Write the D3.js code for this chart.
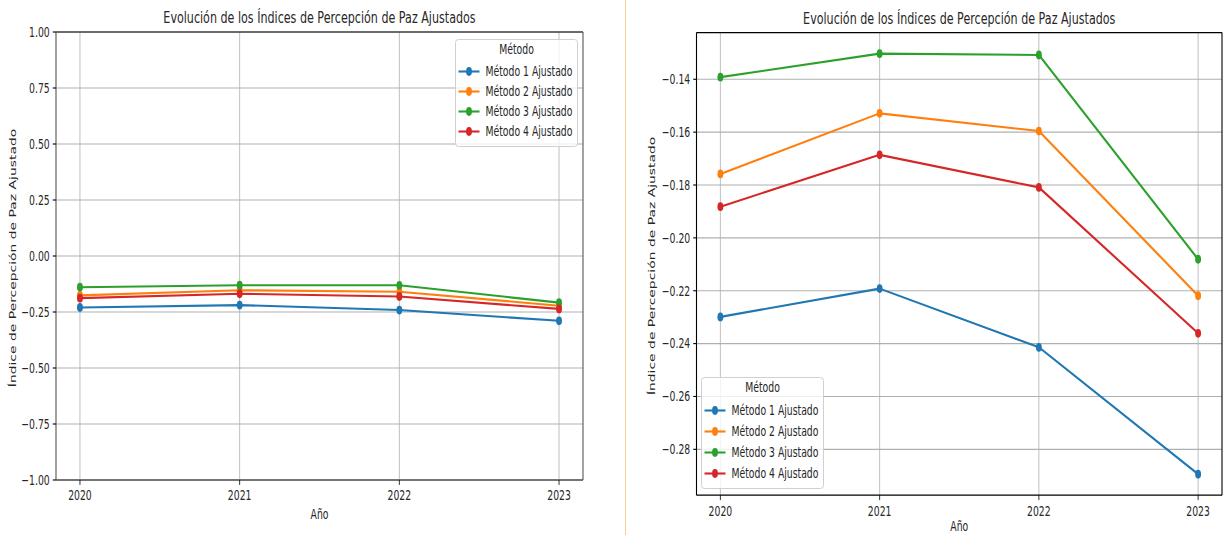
<!DOCTYPE html>
<html>
<head>
<meta charset="utf-8">
<script src="https://cdn.jsdelivr.net/npm/d3@7"></script>
<style>
  html, body { margin: 0; padding: 0; background: #fff; }
  svg { display: block; }
  text { font-family: "DejaVu Sans", sans-serif; fill: #262626; }
</style>
</head>
<body>
<svg id="chart" width="1225" height="535"></svg>
<script>
// ---------------- DATA ----------------
const years = [2020, 2021, 2022, 2023];
const seriesNames = ["Método 1 Ajustado", "Método 2 Ajustado", "Método 3 Ajustado", "Método 4 Ajustado"];
const metodo1 = [-0.2299, -0.2192, -0.2414, -0.2894];
const metodo2 = [-0.1758, -0.1529, -0.1596, -0.2219];
const metodo3 = [-0.1392, -0.1303, -0.1308, -0.2081];
const metodo4 = [-0.1882, -0.1686, -0.1809, -0.2361];
const seriesColors = ["#1f77b4", "#ff7f0e", "#2ca02c", "#d62728"];
const leftYTicks = [-1.00, -0.75, -0.50, -0.25, 0.00, 0.25, 0.50, 0.75, 1.00];
const rightYTicks = [-0.28, -0.26, -0.24, -0.22, -0.20, -0.18, -0.16, -0.14];
const titleText = "Evolución de los Índices de Percepción de Paz Ajustados";
const xLabelText = "Año";
const yLabelText = "Índice de Percepción de Paz Ajustado";
const legendTitle = "Método";

const allSeries = [metodo1, metodo2, metodo3, metodo4];

// horizontal squeeze of the original picture
const SX = 0.668;
const svg = d3.select("#chart");

// divider between the two pictures
svg.append("line").attr("x1", 625.5).attr("x2", 625.5).attr("y1", 0).attr("y2", 535)
  .attr("stroke", "#f3d38a").attr("stroke-width", 1);

function addText(g, x, y, str, size, anchor, rotate, dy) {
  const t = g.append("text")
    .attr("transform", `translate(${x},${y}) scale(${SX},1)` + (rotate ? ` rotate(${rotate})` : ""))
    .attr("text-anchor", anchor || "start")
    .style("font-size", size + "px")
    .text(str);
  if (dy) t.attr("dy", dy);
  return t;
}

function fmt2(v) { return d3.format(".2f")(v).replace("-", "\u2212"); }

function drawPanel(cfg) {
  const g = svg.append("g");
  const x = d3.scaleLinear().domain([2020 - 0.15, 2023 + 0.15]).range([cfg.left, cfg.right]);
  let yDom = cfg.yDomain;
  if (!yDom) {
    const all = allSeries.flat();
    const mn = d3.min(all), mx = d3.max(all), m = (mx - mn) * 0.05;
    yDom = [mn - m, mx + m];
  }
  const y = d3.scaleLinear().domain(yDom).range([cfg.bottom, cfg.top]);

  // grid
  g.append("g").selectAll("line").data(years).join("line")
    .attr("x1", d => x(d)).attr("x2", d => x(d))
    .attr("y1", cfg.top).attr("y2", cfg.bottom)
    .attr("stroke", "#b0b0b0").attr("stroke-width", 0.8);
  g.append("g").selectAll("line").data(cfg.yTicks).join("line")
    .attr("x1", cfg.left).attr("x2", cfg.right)
    .attr("y1", d => y(d)).attr("y2", d => y(d))
    .attr("stroke", "#b0b0b0").attr("stroke-width", 1.1);

  // lines & markers
  const line = d3.line().x((d, i) => x(years[i])).y(d => y(d));
  allSeries.forEach((s, k) => {
    const sg = g.append("g");
    sg.append("path").attr("d", line(s)).attr("fill", "none")
      .attr("stroke", seriesColors[k]).attr("stroke-width", 2.1).attr("stroke-linejoin", "round");
    sg.selectAll("ellipse").data(s).join("ellipse")
      .attr("cx", (d, i) => x(years[i])).attr("cy", d => y(d))
      .attr("rx", 4.4 * SX).attr("ry", 4.4)
      .attr("fill", seriesColors[k]);
  });

  // spines
  g.append("line").attr("x1", cfg.left).attr("x2", cfg.right).attr("y1", cfg.top).attr("y2", cfg.top).attr("stroke", "#000").attr("stroke-width", 1.1);
  g.append("line").attr("x1", cfg.left).attr("x2", cfg.right).attr("y1", cfg.bottom).attr("y2", cfg.bottom).attr("stroke", cfg.spineColor).attr("stroke-width", 1.3);
  g.append("line").attr("x1", cfg.left).attr("x2", cfg.left).attr("y1", cfg.top).attr("y2", cfg.bottom).attr("stroke", cfg.spineColor).attr("stroke-width", 1.1);
  g.append("line").attr("x1", cfg.right).attr("x2", cfg.right).attr("y1", cfg.top).attr("y2", cfg.bottom).attr("stroke", cfg.spineColor).attr("stroke-width", 1.1);

  // y ticks
  cfg.yTicks.forEach(t => {
    g.append("line").attr("x1", cfg.left - 3.3).attr("x2", cfg.left).attr("y1", y(t)).attr("y2", y(t)).attr("stroke", "#000").attr("stroke-width", 1.1);
    addText(g, cfg.left - 6.3, y(t), fmt2(t), 13.9, "end", 0, "0.35em");
  });
  // x ticks
  years.forEach(t => {
    g.append("line").attr("x1", x(t)).attr("x2", x(t)).attr("y1", cfg.bottom).attr("y2", cfg.bottom + 4.9).attr("stroke", "#000").attr("stroke-width", 0.8);
    addText(g, x(t), cfg.bottom + 9.8, String(t), 13.9, "middle", 0, "0.76em");
  });

  // labels
  addText(g, (cfg.left + cfg.right) / 2, cfg.titleY, titleText, 16.67, "middle");
  addText(g, x(2021.5), cfg.xLabelY, xLabelText, 13.9, "middle");
  addText(g, cfg.yLabelX, (cfg.top + cfg.bottom) / 2 + 2, yLabelText, 13.9, "middle", -90);

  // legend
  const L = cfg.legend;
  const lg = g.append("g");
  lg.append("rect").attr("x", L.x).attr("y", L.y).attr("width", L.w).attr("height", L.h)
    .attr("rx", 3).attr("ry", 3)
    .attr("fill", "#fff").attr("fill-opacity", 0.8).attr("stroke", "#d0d0d0").attr("stroke-width", 1);
  addText(lg, L.x + L.w / 2, L.y + 10, legendTitle, 13.9, "middle", 0, "0.35em");
  seriesNames.forEach((name, k) => {
    const yy = L.y + L.first + k * L.step;
    lg.append("line").attr("x1", L.x + 3).attr("x2", L.x + 24).attr("y1", yy).attr("y2", yy)
      .attr("stroke", seriesColors[k]).attr("stroke-width", 2.1);
    lg.append("ellipse").attr("cx", L.x + 13.5).attr("cy", yy).attr("rx", 4.4 * SX).attr("ry", 4.4).attr("fill", seriesColors[k]);
    addText(lg, L.x + 30, yy, name, 13.9, "start", 0, "0.35em");
  });
}

drawPanel({
  id: "L", left: 56, right: 583, top: 32, bottom: 480,
  yDomain: [-1, 1], yTicks: leftYTicks, spineColor: "#555",
  titleY: 23, yLabelX: 15.5, xLabelY: 519,
  legend: { x: 455.5, y: 39.5, w: 122, h: 107, first: 32, step: 20 }
});
drawPanel({
  id: "R", left: 696.5, right: 1222, top: 32.6, bottom: 495.2,
  yDomain: null, yTicks: rightYTicks, spineColor: "#000",
  titleY: 24, yLabelX: 654.5, xLabelY: 531,
  legend: { x: 701.5, y: 377.5, w: 122, h: 111, first: 33, step: 21 }
});
</script>
</body>
</html>
